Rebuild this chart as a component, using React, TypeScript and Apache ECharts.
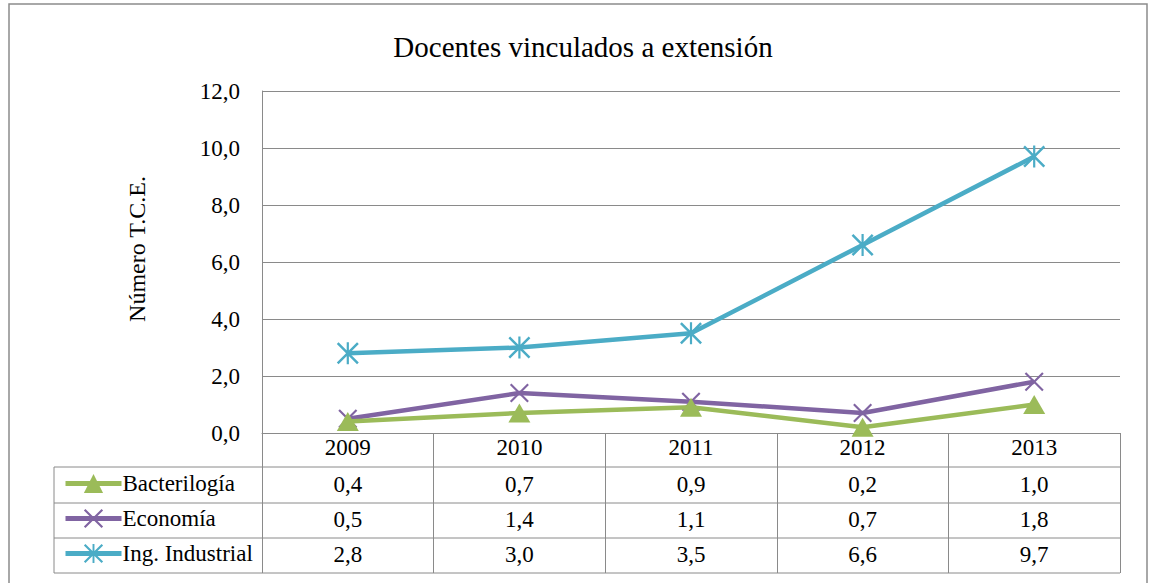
import React, { useEffect, useRef } from "react";
import * as echarts from "echarts";

const years = ["2009", "2010", "2011", "2012", "2013"];
const bacteriologia = [0.4, 0.7, 0.9, 0.2, 1.0];
const economia = [0.5, 1.4, 1.1, 0.7, 1.8];
const ingIndustrial = [2.8, 3.0, 3.5, 6.6, 9.7];
const seriesNames = ["Bacterilogía", "Economía", "Ing. Industrial"];
const seriesColors = ["#9bbb59", "#8064a2", "#4bacc6"];
const yTicks = { min: 0, max: 12, interval: 2 };

const W = 1149;
const H = 583;
const GRID_L = 262;
const GRID_R = 1120;
const GRID_T = 91;
const GRID_B = 433;
const ROW = 35;
const TABLE_L = 54;
const FONT = "Liberation Serif";
const FS = 23;
const GRAY = "#8a8a8a";

const fmt = (v: number) => v.toFixed(1).replace(".", ",");

const a = 1.6;
const xPath = `path://M0,${a} L${a},0 L10,${10 - a} L${20 - a},0 L20,${a} L${10 + a},10 L20,${20 - a} L${20 - a},20 L10,${10 + a} L${a},20 L0,${20 - a} L${10 - a},10 Z`;
const starPath = `${xPath} M9,0 L11,0 L11,20 L9,20 Z`;

export default function App() {
  const ref = useRef<HTMLDivElement>(null);
  useEffect(() => {
    if (!ref.current) return;
    const chart = echarts.init(ref.current, null, { renderer: "svg" });
    const allData = [bacteriologia, economia, ingIndustrial];
    const symbols = ["triangle", xPath, starPath];
    const symbolSizes = [[22, 19], 19, 22];

    const extraX = allData.map((d, i) => ({
      type: "category",
      data: years,
      position: "bottom",
      offset: 36 + i * ROW,
      gridIndex: 0,
      axisLine: { show: false },
      axisTick: { show: false },
      axisLabel: {
        margin: 4,
        fontSize: FS,
        fontFamily: FONT,
        color: "#000",
        formatter: (_v: string, idx: number) => fmt(d[idx]),
      },
    }));

    const hLines: any[] = [];
    for (let k = 1; k <= 4; k++) {
      const y = GRID_B + ROW * k - (k === 1 ? 1 : 0);
      hLines.push({
        type: "line",
        shape: { x1: TABLE_L, y1: y, x2: GRID_R, y2: y },
        style: { stroke: GRAY, lineWidth: 1 },
      });
    }
    hLines.push({
      type: "line",
      shape: { x1: TABLE_L, y1: GRID_B + ROW - 1, x2: TABLE_L, y2: GRID_B + ROW * 4 },
      style: { stroke: GRAY, lineWidth: 1 },
    });

    const legends = seriesNames.map((n, i) => ({
      orient: "horizontal",
      left: 58,
      top: GRID_B + ROW * (i + 1) - 1,
      itemWidth: 56,
      itemHeight: 24,
      itemGap: 0,
      data: [n],
      lineStyle: { width: 5 },
      textStyle: { fontFamily: FONT, fontSize: FS, color: "#000", padding: [0, 0, 0, -4] },
    }));

    chart.setOption({
      animation: false,
      backgroundColor: "#fff",
      textStyle: { fontFamily: FONT },
      title: {
        text: "Docentes vinculados a extensión",
        left: 578,
        textAlign: "center",
        top: 27,
        textStyle: { fontFamily: FONT, fontSize: 29, fontWeight: "normal", color: "#000" },
      },
      legend: legends,
      grid: { left: GRID_L, right: W - GRID_R, top: GRID_T, bottom: H - GRID_B, containLabel: false },
      xAxis: [
        {
          type: "category",
          data: years,
          boundaryGap: true,
          axisLine: { show: true, lineStyle: { color: GRAY, width: 1 } },
          axisTick: { show: true, length: ROW * 4, lineStyle: { color: GRAY, width: 1 } },
          axisLabel: { margin: 3, fontSize: FS, fontFamily: FONT, color: "#000" },
          splitLine: { show: false },
        },
        ...extraX,
      ],
      yAxis: {
        type: "value",
        min: yTicks.min,
        max: yTicks.max,
        interval: yTicks.interval,
        axisLine: { show: true, lineStyle: { color: GRAY, width: 1 } },
        axisTick: { show: false },
        splitLine: { lineStyle: { color: GRAY, width: 1 } },
        axisLabel: {
          margin: 22,
          fontSize: FS,
          fontFamily: FONT,
          color: "#000",
          formatter: (v: number) => fmt(v),
        },
      },
      series: allData.map((d, i) => ({
        name: seriesNames[i],
        type: "line",
        data: d,
        xAxisIndex: 0,
        symbol: symbols[i],
        symbolSize: symbolSizes[i],
        showAllSymbol: true,
        lineStyle: { color: seriesColors[i], width: 4.5 },
        itemStyle: { color: seriesColors[i] },
        z: 3 - i,
      })),
      graphic: [
        {
          type: "rect",
          shape: { x: 9, y: 4, width: 1138, height: 620 },
          style: { fill: "none", stroke: "#8c8c8c", lineWidth: 1.5 },
          silent: true,
        },
        {
          type: "text",
          x: 137,
          y: 249,
          rotation: Math.PI / 2,
          style: {
            text: "Número T.C.E.",
            fontFamily: FONT,
            fontSize: 24,
            fill: "#000",
            align: "center",
            verticalAlign: "middle",
          },
        },
        ...hLines,
      ],
    });
    return () => chart.dispose();
  }, []);
  return (
    <div
      ref={ref}
      style={{ position: "fixed", left: 0, top: 0, width: W, height: H }}
    />
  );
}
